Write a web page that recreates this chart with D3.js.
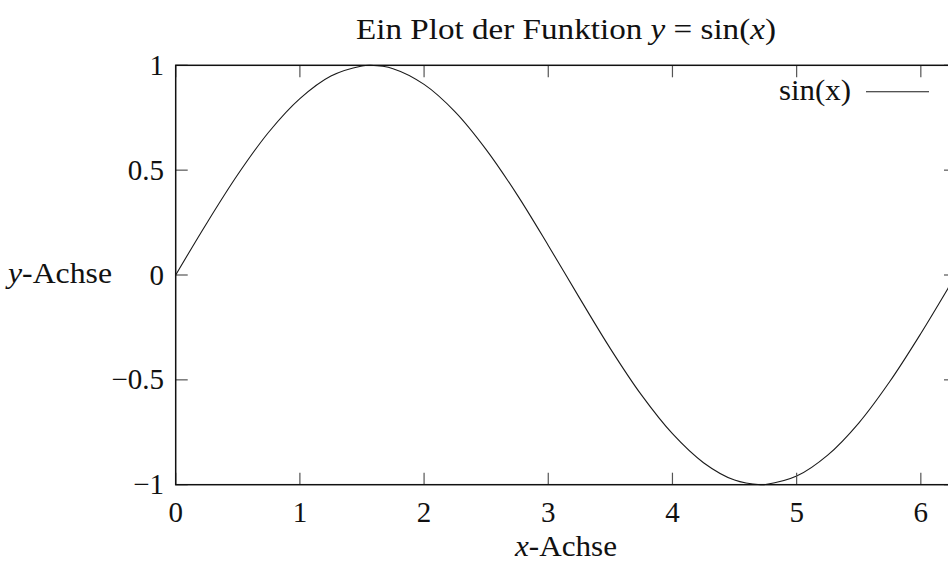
<!DOCTYPE html>
<html><head><meta charset="utf-8">
<script src="https://cdn.jsdelivr.net/npm/d3@7"></script>
<style>
html,body{margin:0;padding:0;background:#fff;}
text{font-family:"Liberation Serif","Times New Roman",serif;fill:#111;}
</style></head>
<body><svg id="c" width="948" height="562"></svg>
<script>
// data
const xValues = [0,0.25,0.5,0.75,1.0,1.25,1.5,1.57,1.75,2.0,2.25,2.5,2.75,3.0,3.25,3.5,3.75,4.0,4.25,4.5,4.71,4.75,5.0,5.25,5.5,5.75,6.0,6.25,6.28];
const yValues = [0,0.247,0.479,0.682,0.841,0.949,0.997,1.0,0.984,0.909,0.778,0.598,0.382,0.141,-0.108,-0.351,-0.572,-0.757,-0.895,-0.978,-1.0,-0.999,-0.959,-0.859,-0.706,-0.508,-0.279,-0.033,-0.003];
const xTicks = [0,1,2,3,4,5,6];
const yTicks = [-1,-0.5,0,0.5,1];
const yTickLabels = ["\u22121","\u22120.5","0","0.5","1"];
const seriesName = "sin(x)";

const svg = d3.select("#c");
const L = 175.7, R = 956, T = 65.3, B = 484.7;
const x = d3.scaleLinear().domain([0, 6.2832]).range([L, R]);
const y = d3.scaleLinear().domain([-1, 1]).range([B, T]);
const FS = 29;

// curve
const line = d3.line().x((d,i)=>x(xValues[i])).y((d,i)=>y(yValues[i])).curve(d3.curveCatmullRom);
svg.append("path").datum(yValues).attr("d", line)
  .attr("fill","none").attr("stroke","#1a1a1a").attr("stroke-width",1.1);

// ticks (inward, mirrored)
const tl = 12;
const tickG = svg.append("g").attr("stroke","#555").attr("stroke-width",1.2);
xTicks.forEach(t=>{
  tickG.append("line").attr("x1",x(t)).attr("x2",x(t)).attr("y1",B).attr("y2",B-tl);
  tickG.append("line").attr("x1",x(t)).attr("x2",x(t)).attr("y1",T).attr("y2",T+tl);
});
yTicks.forEach(t=>{
  tickG.append("line").attr("x1",L).attr("x2",L+tl).attr("y1",y(t)).attr("y2",y(t));
  tickG.append("line").attr("x1",R).attr("x2",R-tl).attr("y1",y(t)).attr("y2",y(t));
});

// border
svg.append("rect").attr("x",L).attr("y",T).attr("width",R-L).attr("height",B-T)
  .attr("fill","none").attr("stroke","#111").attr("stroke-width",1.5);

// tick labels
svg.append("g").selectAll("text").data(xTicks).join("text")
  .attr("x",d=>x(d)).attr("y",522).attr("text-anchor","middle")
  .attr("font-size",FS).text(d=>d);
svg.append("g").selectAll("text").data(yTicks).join("text")
  .attr("x",164).attr("y",d=>y(d)+9.5).attr("text-anchor","end")
  .attr("font-size",FS).text((d,i)=>yTickLabels[i]);

// title
const title = svg.append("text").attr("x",566).attr("y",39).attr("text-anchor","middle").attr("font-size",FS)
  .attr("textLength",420).attr("lengthAdjust","spacingAndGlyphs");
title.append("tspan").text("Ein Plot der Funktion ");
title.append("tspan").attr("font-style","italic").text("y");
title.append("tspan").text(" = sin(");
title.append("tspan").attr("font-style","italic").text("x");
title.append("tspan").text(")");

// axis labels
const xl = svg.append("text").attr("x",566).attr("y",556).attr("text-anchor","middle").attr("font-size",FS)
  .attr("textLength",102).attr("lengthAdjust","spacingAndGlyphs");
xl.append("tspan").attr("font-style","italic").text("x");
xl.append("tspan").text("-Achse");
const yl = svg.append("text").attr("x",8).attr("y",283).attr("text-anchor","start").attr("font-size",FS)
  .attr("textLength",104).attr("lengthAdjust","spacingAndGlyphs");
yl.append("tspan").attr("font-style","italic").text("y");
yl.append("tspan").text("-Achse");

// legend
svg.append("text").attr("x",851).attr("y",100).attr("text-anchor","end").attr("font-size",FS)
  .attr("textLength",72).attr("lengthAdjust","spacingAndGlyphs").text(seriesName);
svg.append("line").attr("x1",866).attr("x2",929).attr("y1",91.7).attr("y2",91.7)
  .attr("stroke","#1a1a1a").attr("stroke-width",1.1);
</script></body></html>
